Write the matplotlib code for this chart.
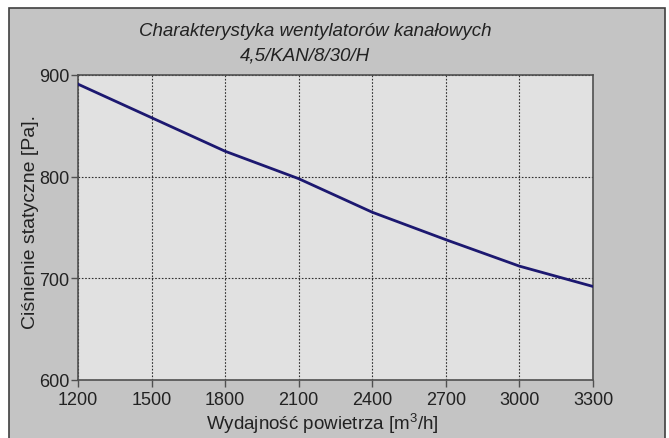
import matplotlib
matplotlib.use("Agg")
import matplotlib.pyplot as plt
import matplotlib.ticker as ticker
from matplotlib.patches import Rectangle

DPI = 100
WIDTH_PX = 669
HEIGHT_PX = 439

# dane
flow = [1200, 1500, 1800, 2100, 2400, 2700, 3000, 3300]
pressure = [891, 858, 825, 798, 765, 738, 712, 692]
x_ticks = [1200, 1500, 1800, 2100, 2400, 2700, 3000, 3300]
y_ticks = [600, 700, 800, 900]

title_1 = "Charakterystyka wentylatorów kanałowych"
title_2 = "4,5/KAN/8/30/H"
x_label = "Wydajność powietrza [m$^3$/h]"
y_label = "Ciśnienie statyczne [Pa]."

plt.rcParams['font.family'] = ['Liberation Sans', 'DejaVu Sans']
plt.rcParams['mathtext.fontset'] = 'custom'
plt.rcParams['mathtext.rm'] = 'Liberation Sans'

fig = plt.figure(figsize=(WIDTH_PX / DPI, HEIGHT_PX / DPI), dpi=DPI)
fig.patch.set_facecolor('white')

# szara ramka tła
frame = Rectangle((9 / WIDTH_PX, -0.05), (665 - 9) / WIDTH_PX, 1.05 - 9 / HEIGHT_PX,
                  transform=fig.transFigure, facecolor='#c4c4c4',
                  edgecolor='#404040', linewidth=1.2, zorder=-5)
fig.patches.append(frame)

left, right, top, bottom = 78, 593, 76, 381
ax = fig.add_axes([left / WIDTH_PX, 1 - bottom / HEIGHT_PX,
                   (right - left) / WIDTH_PX, (bottom - top) / HEIGHT_PX])
ax.set_facecolor('#e1e1e1')

ax.plot(flow, pressure, color='#1c1870', linewidth=2.0, zorder=3)

ax.set_xlim(1200, 3300)
ax.set_ylim(600, 900)
ax.xaxis.set_major_locator(ticker.FixedLocator(x_ticks))
ax.yaxis.set_major_locator(ticker.FixedLocator(y_ticks))
ax.grid(True, color='#303030', linestyle=(0, (1.5, 1.5)), linewidth=0.8)

for s in ax.spines.values():
    s.set_color('#505050')
    s.set_linewidth(1.2)

ax.tick_params(axis='both', direction='out', length=5, width=1, color='#505050',
               labelsize=13, labelcolor='#222222', pad=1)
ax.tick_params(axis='x', pad=3)

ax.set_xlabel(x_label, fontsize=13.5, color='#222222', va='center')
ax.xaxis.set_label_coords(0.474, -0.141)
ax.set_ylabel(y_label, fontsize=14, color='#222222', va='center')
ax.yaxis.set_label_coords(-0.093, 0.521)

fig.text(315 / WIDTH_PX, 1 - 31 / HEIGHT_PX, title_1, ha='center', va='center',
         fontsize=13.5, style='italic', color='#222222')
fig.text(305 / WIDTH_PX, 1 - 56 / HEIGHT_PX, title_2, ha='center', va='center',
         fontsize=13.5, style='italic', color='#222222')

fig.savefig('out.png', dpi=DPI)
